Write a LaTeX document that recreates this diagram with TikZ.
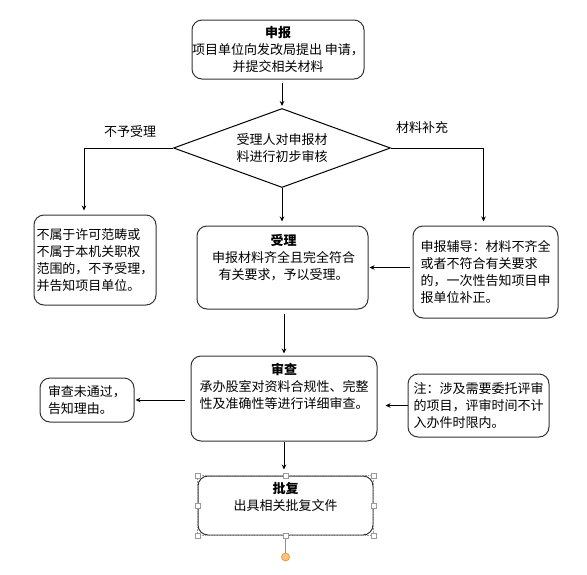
\documentclass[tikz,border=0pt]{standalone}
\usepackage{fontspec}
\setmainfont{Noto Sans CJK SC}
\usepackage{tikz}
\usetikzlibrary{shapes.geometric,arrows.meta}

\definecolor{boxline}{HTML}{333333}
\definecolor{selgray}{HTML}{9A9A9A}
\definecolor{rotline}{HTML}{C8804A}
\definecolor{rotfill}{HTML}{FFC27A}
\definecolor{rotdraw}{HTML}{E0903C}

\begin{document}
\begin{tikzpicture}
	[
		x=1pt, y=-1pt,
		font=\fontsize{13pt}{17pt}\selectfont,
		box/.style = {rectangle, rounded corners=10pt, draw=boxline, line width=1pt, inner sep=0pt},
		txt/.style = {inner sep=0pt},
		decision/.style = {diamond, aspect=2.75, draw=black, line width=1pt, inner sep=0pt,
			minimum width=217pt, minimum height=79pt, align=center},
		arrow/.style = {-{Stealth[length=5pt,width=4.5pt]}, line width=0.8pt},
		selframe/.style = {draw=selgray, densely dotted, line width=0.6pt},
		handle/.style = {rectangle, draw=selgray, fill=white, line width=0.6pt, minimum size=5pt, inner sep=0pt},
		rotbar/.style = {draw=rotline, line width=0.8pt},
		rothandle/.style = {circle, draw=rotdraw, fill=rotfill, line width=0.6pt, minimum size=8pt, inner sep=0pt},
	]

	\useasboundingbox (0,0) rectangle (587,574);

	% main column
	\node[box, minimum width=172pt, minimum height=59pt, align=center] (apply) at (278, 49.5)
		{\textbf{申报}\\项目单位向发改局提出 申请，\\并提交相关材料};
	\node[decision] (dec) at (282, 148) {受理人对申报材\\料进行初步审核};
	\node[box, minimum width=171pt, minimum height=83pt] (accept) at (282.5, 267.5) {};
	\node[txt, align=center] (accepttext) at (283.5, 257.5)
		{\textbf{受理}\\申报材料齐全且完全符合\\有关要求，予以受理。};
	\node[box, minimum width=186pt, minimum height=85pt] (review) at (284, 398.5) {};
	\node[txt, align=center] (reviewtext) at (284, 386.5)
		{\textbf{审查}\\承办股室对资料合规性、完整\\性及准确性等进行详细审查。};
	\node[box, minimum width=175pt, minimum height=59pt] (approve) at (285.5, 505.5) {};
	\node[txt, align=center] (approvetext) at (285.5, 497) {\textbf{批复}\\出具相关批复文件};

	% side boxes
	\node[box, minimum width=122pt, minimum height=90pt, align=left] (reject) at (95, 260)
		{不属于许可范畴或\\不属于本机关职权\\范围的，不予受理，\\并告知项目单位。};
	\node[box, minimum width=145pt, minimum height=92pt, align=left] (guide) at (485.5, 272)
		{申报辅导：材料不齐全\\或者不符合有关要求\\的，一次性告知项目申\\报单位补正。};
	\node[box, minimum width=94pt, minimum height=44pt, align=left] (notpass) at (87, 400)
		{审查未通过，\\告知理由。};
	\node[box, minimum width=141pt, minimum height=63pt, align=left] (note) at (478.5, 405.5)
		{注：涉及需要委托评审\\的项目，评审时间不计\\入办件时限内。};

	% branch labels
	\node[txt] (nolabel) at (130, 132) {不予受理};
	\node[txt] (morelabel) at (422, 128) {材料补充};

	\foreach \from/\to/\gapa/\gapb in {apply.south -| dec.north/dec.north/3/2,
		dec.south/dec.south |- accept.north/0/4,
		accept.south -| review.north/review.north/4/2,
		review.south/review.south |- approve.north/0/6,
		guide.west |- accept.east/accept.east/3/1,
		review.west |- notpass.east/notpass.east/6/1,
		note.west/note.west -| review.east/0/8}
	\draw[arrow, shorten <=\gapa pt, shorten >=\gapb pt] (\from) -- (\to);

	\draw[arrow, shorten >=4pt] (dec.west) -| ([xshift=-11pt]reject.north);
	\draw[arrow, shorten >=4pt] (dec.east) -| ([xshift=-2pt]guide.north);

	% selection handles
	\draw[selframe] (approve.south west) rectangle (approve.north east);
	\node[rothandle] (rot) at (285.5, 557) {};
	\draw[rotbar] (approve.south) -- (rot);
	\foreach \a in {north west,north,north east,east,south east,south,south west,west}
	\node[handle] (sel \a) at (approve.\a) {};

\end{tikzpicture}
\end{document}
